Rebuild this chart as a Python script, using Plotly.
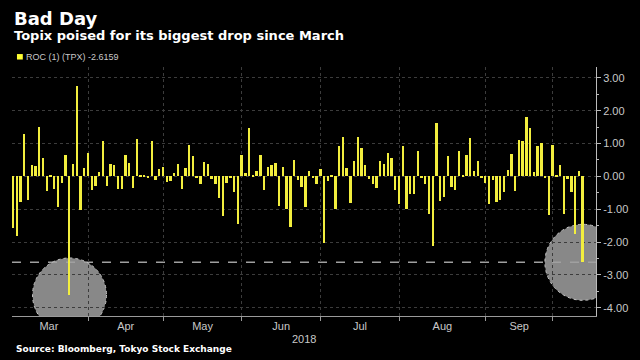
import numpy as np
import pandas as pd
import plotly.graph_objects as go

# ---------------- data ----------------
start_date = "2018-03-01"
end_date = "2018-10-11"
jp_holidays = ["2018-03-21", "2018-04-30", "2018-05-03", "2018-05-04",
               "2018-07-16", "2018-09-17", "2018-09-24", "2018-10-08"]

roc = [
    -1.58, -1.81, -0.77, 1.28, -0.71, 0.36, 0.32, 1.51, 0.56, -0.45,
    0.03, -0.38, -0.94, -0.19, 0.66, -3.61, 0.38, 2.75, -1.01, 0.26,
    0.72, -0.42, -0.28, 0.13, 1.08, -0.30, 0.38, 0.35, -0.37, -0.37,
    0.64, 0.40, -0.34, 1.14, 0.03, 0.05, -0.03, 1.08, -0.11, 0.24,
    0.29, -0.16, -0.15, 0.10, 0.37, -0.38, 0.26, 0.97, 0.62, -0.06,
    -0.24, 0.45, 0.38, -0.08, -0.22, -0.67, -1.21, -0.20, -0.06, -0.48,
    -1.46, 0.66, 0.10, 1.46, 0.03, 0.15, 0.65, -0.41, 0.30, 0.34,
    0.42, -0.91, 0.29, -0.98, -1.54, 0.51, -0.11, -0.31, -0.94, 0.16,
    -0.02, -0.24, 0.22, -2.04, -0.15, 0.05, -0.99, 0.93, 1.20, 0.27,
    -0.82, 0.47, 1.20, 0.86, 0.36, -0.09, -0.23, -0.34, 0.47, 0.38,
    0.70, 0.56, -0.42, -0.83, 0.94, -0.98, -0.54, -0.54, 0.76, -0.06,
    -0.24, -1.13, -2.12, 1.63, -0.74, -0.64, 0.63, -0.31, -0.40, 0.76,
    0.02, 0.65, 1.17, 0.15, 0.47, -0.02, -0.20, -0.85, -0.11, -0.77,
    -0.73, -0.48, 0.19, 0.67, -0.45, 1.10, 1.07, 1.80, 1.46, 0.12,
    0.92, 1.01, -0.04, -1.18, 0.95, 0.04, 0.34, -1.16, -0.08, -0.47,
    -1.76, 0.15, -2.6159,
]
last_value = -2.6159
y_ticks = [-4, -3, -2, -1, 0, 1, 2, 3]
month_labels = ["Mar", "Apr", "May", "Jun", "Jul", "Aug", "Sep"]
year_label = "2018"
series_name = "ROC (1) (TPX) -2.6159"

# ---------------- derived ----------------
dates = pd.bdate_range(start_date, end_date, freq="C", holidays=jp_holidays)
assert len(dates) == len(roc), (len(dates), len(roc))
xidx = np.arange(len(dates))
month_key = dates.to_period("M")
last_of_month = [int(xidx[month_key == m].max()) for m in month_key.unique()[:-1]]
bounds = [-1] + last_of_month
label_pos = [(bounds[i] + bounds[i + 1]) / 2 for i in range(len(month_labels))]
i_min = int(np.argmin(roc[:60]))
i_last = len(roc) - 1

YELLOW = "#f2ee3e"
GRID = "#3c3c3c"
AXIS = "#9a9a9a"
TXT = "#c8c8c8"
FONT = "Liberation Sans, Arial, sans-serif"
BOLD = "DejaVu Sans, Verdana, sans-serif"

fig = go.Figure()
fig.add_bar(x=xidx, y=roc, marker_color=YELLOW, marker_line_width=0,
            width=0.5, showlegend=False, name=series_name)
# invisible helper trace for the month-boundary axis
fig.add_scatter(x=bounds[1:], y=[0] * len(bounds[1:]), xaxis="x2", mode="markers",
                marker=dict(opacity=0), hoverinfo="skip", showlegend=False)

xr = [-0.35, 155.5]
fig.update_layout(
    width=640, height=360,
    paper_bgcolor="black", plot_bgcolor="black",
    margin=dict(l=12, r=42, t=67, b=44),
    bargap=0,
    xaxis=dict(range=xr, tickvals=label_pos, ticktext=month_labels, ticks="",
               showgrid=False, zeroline=False, showline=True, linecolor=AXIS,
               linewidth=1, tickfont=dict(family=FONT, size=11, color=TXT)),
    xaxis2=dict(range=xr, overlaying="x", side="bottom", tickvals=bounds[1:],
                showticklabels=False, ticks="outside", ticklen=4, tickcolor=AXIS,
                showgrid=True, gridcolor=GRID, griddash="dot", gridwidth=1,
                zeroline=False, showline=False),
    yaxis=dict(range=[-4.25, 3.33], side="right", tickvals=y_ticks,
               ticktext=[f"{v:.2f}" for v in y_ticks], ticks="outside", ticklen=4,
               tickcolor="#bbbbbb", showline=True, linecolor="#bbbbbb", linewidth=1,
               showgrid=True, gridcolor=GRID, griddash="dot", gridwidth=1,
               zeroline=False, tickfont=dict(family=FONT, size=11, color=TXT),
               minor=dict(dtick=0.5, tick0=0, ticks="outside", ticklen=2,
                          tickcolor="#bbbbbb", showgrid=False)),
    shapes=[
        dict(type="circle", xref="x", yref="y", xsizemode="pixel", ysizemode="pixel",
             xanchor=i_min, yanchor=roc[i_min], x0=-37, x1=37, y0=-37, y1=37,
             fillcolor="rgba(160,160,160,0.85)", line=dict(color="#c4c4c4", width=1, dash="dot"),
             layer="below"),
        dict(type="circle", xref="x", yref="y", xsizemode="pixel", ysizemode="pixel",
             xanchor=i_last, yanchor=roc[i_last], x0=-38, x1=38, y0=-38, y1=38,
             fillcolor="rgba(160,160,160,0.85)", line=dict(color="#c4c4c4", width=1, dash="dot"),
             layer="below"),
        dict(type="line", xref="paper", yref="y", x0=0, x1=1, y0=last_value, y1=last_value,
             line=dict(color="#a0a0a0", width=1.5, dash="dash"), layer="below"),
        dict(type="rect", xref="paper", yref="paper", x0=0.0085, x1=0.0185,
             y0=1.030, y1=1.052, fillcolor="#ffff33", line=dict(width=0)),
    ],
    annotations=[
        dict(text="<b>Bad Day</b>", xref="paper", yref="paper", x=0, y=1.194,
             xanchor="left", yanchor="middle", showarrow=False,
             font=dict(family=BOLD, size=18, color="white")),
        dict(text="<b>Topix poised for its biggest drop since March</b>", xref="paper",
             yref="paper", x=0, y=1.127, xanchor="left", yanchor="middle", showarrow=False,
             font=dict(family=BOLD, size=13, color="white")),
        dict(text=series_name, xref="paper", yref="paper", x=0.021, y=1.041,
             xanchor="left", yanchor="middle", showarrow=False,
             font=dict(family=FONT, size=9, color=TXT)),
        dict(text=year_label, xref="paper", yref="paper", x=0.5, y=-0.094,
             xanchor="center", yanchor="middle", showarrow=False,
             font=dict(family=FONT, size=11, color=TXT)),
        dict(text="<b>Source: Bloomberg, Tokyo Stock Exchange</b>", xref="paper",
             yref="paper", x=0.003, y=-0.134, xanchor="left", yanchor="middle",
             showarrow=False, font=dict(family=BOLD, size=9, color="white")),
    ],
)

fig.write_html("out.html", config={"displayModeBar": False},
               post_script="document.body.style.margin='0';")
